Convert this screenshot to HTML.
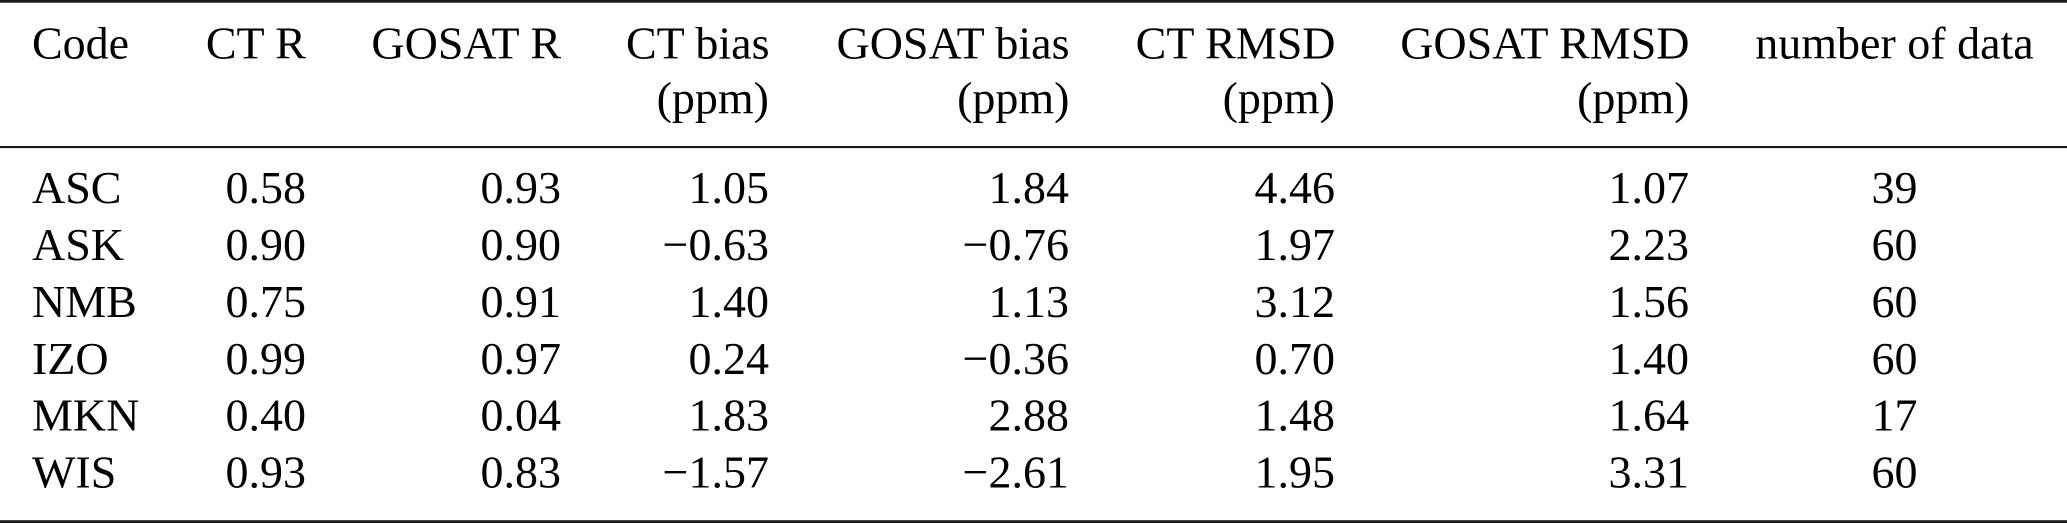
<!DOCTYPE html>
<html>
<head>
<meta charset="utf-8">
<style>
  html, body { margin: 0; padding: 0; background: #ffffff; }
  body { width: 2067px; height: 523px; overflow: hidden; }
  svg { display: block; }
  text { font-family: "Liberation Serif", "DejaVu Serif", serif; font-size: 46px; fill: #000; }
</style>
</head>
<body>
<svg width="2067" height="523" viewBox="0 0 2067 523" xmlns="http://www.w3.org/2000/svg">
  <!-- rules -->
  <rect x="0" y="0" width="2067" height="2.7" fill="#1a1a1a"/>
  <rect x="0" y="146" width="2067" height="2.1" fill="#1a1a1a"/>
  <rect x="0" y="520.2" width="2067" height="2.8" fill="#1a1a1a"/>

  <!-- header line 1 -->
  <text x="32" y="58.5">Code</text>
  <text x="306" y="58.5" text-anchor="end">CT R</text>
  <text x="561" y="58.5" text-anchor="end">GOSAT R</text>
  <text x="769.5" y="58.5" text-anchor="end">CT bias</text>
  <text x="1069.5" y="58.5" text-anchor="end">GOSAT bias</text>
  <text x="1335.5" y="58.5" text-anchor="end">CT RMSD</text>
  <text x="1689.5" y="58.5" text-anchor="end">GOSAT RMSD</text>
  <text x="1894.5" y="58.5" text-anchor="middle">number of data</text>

  <!-- header line 2 -->
  <text x="769" y="113.5" text-anchor="end">(ppm)</text>
  <text x="1069.5" y="113.5" text-anchor="end">(ppm)</text>
  <text x="1335" y="113.5" text-anchor="end">(ppm)</text>
  <text x="1689.5" y="113.5" text-anchor="end">(ppm)</text>

  <!-- row ASC -->
  <text x="32" y="203.2">ASC</text>
  <text x="306" y="203.2" text-anchor="end">0.58</text>
  <text x="561" y="203.2" text-anchor="end">0.93</text>
  <text x="769" y="203.2" text-anchor="end">1.05</text>
  <text x="1069" y="203.2" text-anchor="end">1.84</text>
  <text x="1335" y="203.2" text-anchor="end">4.46</text>
  <text x="1689" y="203.2" text-anchor="end">1.07</text>
  <text x="1894.5" y="203.2" text-anchor="middle">39</text>

  <!-- row ASK -->
  <text x="32" y="260.05">ASK</text>
  <text x="306" y="260.05" text-anchor="end">0.90</text>
  <text x="561" y="260.05" text-anchor="end">0.90</text>
  <text x="769" y="260.05" text-anchor="end">−0.63</text>
  <text x="1069" y="260.05" text-anchor="end">−0.76</text>
  <text x="1335" y="260.05" text-anchor="end">1.97</text>
  <text x="1689" y="260.05" text-anchor="end">2.23</text>
  <text x="1894.5" y="260.05" text-anchor="middle">60</text>

  <!-- row NMB -->
  <text x="32" y="316.9">NMB</text>
  <text x="306" y="316.9" text-anchor="end">0.75</text>
  <text x="561" y="316.9" text-anchor="end">0.91</text>
  <text x="769" y="316.9" text-anchor="end">1.40</text>
  <text x="1069" y="316.9" text-anchor="end">1.13</text>
  <text x="1335" y="316.9" text-anchor="end">3.12</text>
  <text x="1689" y="316.9" text-anchor="end">1.56</text>
  <text x="1894.5" y="316.9" text-anchor="middle">60</text>

  <!-- row IZO -->
  <text x="32" y="373.75">IZO</text>
  <text x="306" y="373.75" text-anchor="end">0.99</text>
  <text x="561" y="373.75" text-anchor="end">0.97</text>
  <text x="769" y="373.75" text-anchor="end">0.24</text>
  <text x="1069" y="373.75" text-anchor="end">−0.36</text>
  <text x="1335" y="373.75" text-anchor="end">0.70</text>
  <text x="1689" y="373.75" text-anchor="end">1.40</text>
  <text x="1894.5" y="373.75" text-anchor="middle">60</text>

  <!-- row MKN -->
  <text x="32" y="430.6">MKN</text>
  <text x="306" y="430.6" text-anchor="end">0.40</text>
  <text x="561" y="430.6" text-anchor="end">0.04</text>
  <text x="769" y="430.6" text-anchor="end">1.83</text>
  <text x="1069" y="430.6" text-anchor="end">2.88</text>
  <text x="1335" y="430.6" text-anchor="end">1.48</text>
  <text x="1689" y="430.6" text-anchor="end">1.64</text>
  <text x="1894.5" y="430.6" text-anchor="middle">17</text>

  <!-- row WIS -->
  <text x="32" y="487.45">WIS</text>
  <text x="306" y="487.45" text-anchor="end">0.93</text>
  <text x="561" y="487.45" text-anchor="end">0.83</text>
  <text x="769" y="487.45" text-anchor="end">−1.57</text>
  <text x="1069" y="487.45" text-anchor="end">−2.61</text>
  <text x="1335" y="487.45" text-anchor="end">1.95</text>
  <text x="1689" y="487.45" text-anchor="end">3.31</text>
  <text x="1894.5" y="487.45" text-anchor="middle">60</text>
</svg>
</body>
</html>
